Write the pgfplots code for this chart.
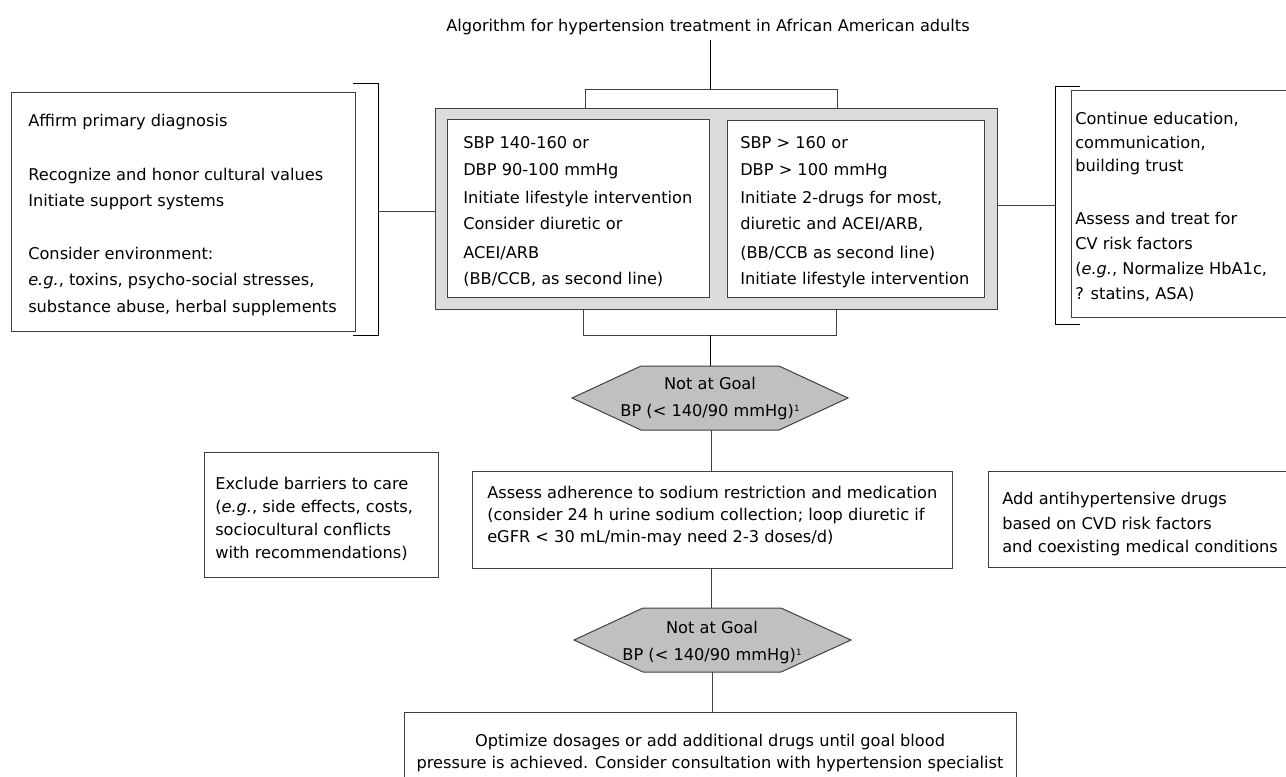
\documentclass[border=0pt]{standalone}
\usepackage{fontspec}
\setmainfont{DejaVu Sans}
\usepackage{pgfplots}
\pgfplotsset{compat=1.18}
\definecolor{lc}{HTML}{404040}
\definecolor{gbox}{HTML}{DCDCDC}
\definecolor{hexc}{HTML}{C0C0C0}
\newcommand{\supone}[1]{{\fontsize{6.5pt}{6.5pt}\selectfont\raisebox{0.95ex}{#1}}}
\newcommand{\tl}[3]{\node[anchor=base west, inner sep=0pt, font=\fontsize{12.15pt}{14pt}\selectfont] at (axis cs:#1,#2) {#3};}
\newcommand{\tc}[3]{\node[anchor=base, inner sep=0pt, font=\fontsize{12.15pt}{14pt}\selectfont] at (axis cs:#1,#2) {#3};}
\begin{document}
\begin{tikzpicture}
\begin{axis}[scale only axis, width=964.5pt, height=582pt,
  xmin=0, xmax=1286, ymin=0, ymax=776, y dir=reverse,
  axis lines=none, clip=true,
  every axis plot/.append style={line width=0.75pt, mark=none}]
\addplot[draw=none] coordinates {(0,0) (1286,776)};
% gray outer box and inner boxes
\addplot[draw=lc, fill=gbox] coordinates {(435,108) (997,108) (997,309) (435,309) (435,108)};
\addplot[draw=lc, fill=white] coordinates {(447,119) (709,119) (709,297) (447,297) (447,119)};
\addplot[draw=lc, fill=white] coordinates {(727,120) (984,120) (984,297) (727,297) (727,120)};
% left box, bracket, connector
\addplot[draw=lc, fill=white] coordinates {(11,92) (355,92) (355,331) (11,331) (11,92)};
\addplot[draw=black] coordinates {(353,83) (378,83) (378,335) (353,335)};
\addplot[draw=lc] coordinates {(378,211) (435,211)};
% right box, bracket, connector
\addplot[draw=lc, fill=white] coordinates {(1071,90) (1300,90) (1300,317) (1071,317) (1071,90)};
\addplot[draw=black] coordinates {(1080,86) (1055,86) (1055,324) (1080,324)};
\addplot[draw=lc] coordinates {(997,205) (1055,205)};
% title connectors
\addplot[draw=black] coordinates {(710,40) (710,89)};
\addplot[draw=lc] coordinates {(585,108) (585,89) (837,89) (837,108)};
\addplot[draw=lc] coordinates {(583,309) (583,335) (836,335) (836,309)};
\addplot[draw=black] coordinates {(710,335) (710,366)};
% hexagon 1
\addplot[draw=lc, fill=hexc] coordinates {(641,366) (779,366) (848,398) (779,430) (641,430) (572,398) (641,366)};
\addplot[draw=lc] coordinates {(711,430) (711,471)};
% middle row
\addplot[draw=lc, fill=white] coordinates {(204,452) (438,452) (438,577) (204,577) (204,452)};
\addplot[draw=lc, fill=white] coordinates {(472,471) (952,471) (952,568) (472,568) (472,471)};
\addplot[draw=lc, fill=white] coordinates {(988,471) (1300,471) (1300,567) (988,567) (988,471)};
\addplot[draw=lc] coordinates {(711,568) (711,608)};
% hexagon 2
\addplot[draw=lc, fill=hexc] coordinates {(643,608) (781,608) (851,640) (781,672) (643,672) (574,640) (643,608)};
\addplot[draw=lc] coordinates {(712,672) (712,712)};
% final box
\addplot[draw=lc, fill=white] coordinates {(404,712) (1016,712) (1016,800) (404,800) (404,712)};
% texts
\tc{708}{31}{Algorithm for hypertension treatment in African American adults}
\tl{28}{126}{Affirm primary diagnosis}
\tl{28}{180}{Recognize and honor cultural values}
\tl{28}{206}{Initiate support systems}
\tl{28}{259}{Consider environment:}
\tl{28}{285}{\textit{e.g.}, toxins, psycho-social stresses,}
\tl{28}{312}{substance abuse, herbal supplements}
\tl{463}{148}{SBP 140-160 or}
\tl{463}{175}{DBP 90-100 mmHg}
\tl{463}{203}{Initiate lifestyle intervention}
\tl{463}{229}{Consider diuretic or}
\tl{463}{258}{ACEI/ARB}
\tl{463}{284}{(BB/CCB, as second line)}
\tl{740}{148}{SBP > 160 or}
\tl{740}{175}{DBP > 100 mmHg}
\tl{740}{203}{Initiate 2-drugs for most,}
\tl{740}{229}{diuretic and ACEI/ARB,}
\tl{740}{258}{(BB/CCB as second line)}
\tl{740}{284}{Initiate lifestyle intervention}
\tl{1075}{124}{Continue education,}
\tl{1075}{148}{communication,}
\tl{1075}{171}{building trust}
\tl{1075}{224}{Assess and treat for}
\tl{1075}{249}{CV risk factors}
\tl{1075}{274}{(\textit{e.g.}, Normalize HbA1c,}
\tl{1075}{299}{? statins, ASA)}
\tc{710}{389}{Not at Goal}
\tc{710}{416}{BP (< 140/90 mmHg)\supone{1}}
\tl{215}{489}{Exclude barriers to care}
\tl{215}{512}{(\textit{e.g.}, side effects, costs,}
\tl{215}{535}{sociocultural conflicts}
\tl{215}{558}{with recommendations)}
\tl{487}{498}{Assess adherence to sodium restriction and medication}
\tl{487}{520}{(consider 24 h urine sodium collection; loop diuretic if}
\tl{487}{542}{eGFR < 30 mL/min-may need 2-3 doses/d)}
\tl{1002}{504}{Add antihypertensive drugs}
\tl{1002}{529}{based on CVD risk factors}
\tl{1002}{552}{and coexisting medical conditions}
\tc{712}{633}{Not at Goal}
\tc{712}{660}{BP (< 140/90 mmHg)\supone{1}}
\tc{710}{746}{Optimize dosages or add additional drugs until goal blood}
\tc{710}{768}{pressure is achieved. Consider consultation with hypertension specialist}
\end{axis}
\end{tikzpicture}
\end{document}
